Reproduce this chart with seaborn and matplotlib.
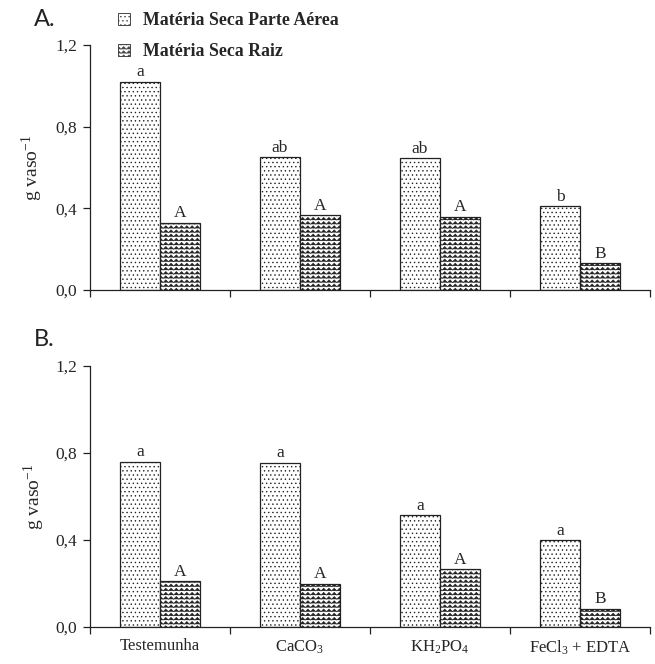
import warnings
import numpy as np
import pandas as pd
import matplotlib
matplotlib.use("Agg")
import matplotlib.pyplot as plt
import matplotlib.hatch as mhatch
from matplotlib.path import Path
from matplotlib.patches import Patch
from matplotlib.ticker import FixedLocator, FuncFormatter
import seaborn as sns

warnings.filterwarnings("ignore")

tratamentos = ["Testemunha", "CaCO$_3$", "KH$_2$PO$_4$", "FeCl$_3$ + EDTA"]
series = ["Matéria Seca Parte Aérea", "Matéria Seca Raiz"]

# painel A
aerea_a = [1.02, 0.65, 0.645, 0.41]
raiz_a = [0.33, 0.365, 0.36, 0.13]
letras_aerea_a = ["a", "ab", "ab", "b"]
letras_raiz_a = ["A", "A", "A", "B"]

# painel B
aerea_b = [0.76, 0.755, 0.515, 0.40]
raiz_b = [0.21, 0.20, 0.265, 0.085]
letras_aerea_b = ["a", "a", "a", "a"]
letras_raiz_b = ["A", "A", "A", "B"]

yticks = [0.0, 0.4, 0.8, 1.2]


# zigzag hatch ("~") since matplotlib has no wavy pattern
class WaveHatch(mhatch.HatchPatternBase):
    def __init__(self, hatch, density):
        self.num_lines = int(hatch.count("~") * density)
        self.num_periods = int(self.num_lines * 0.8)
        self.num_vertices = self.num_lines * (2 * self.num_periods + 1)

    def set_vertices_and_codes(self, vertices, codes):
        n = self.num_lines
        if n == 0:
            return
        npts = 2 * self.num_periods + 1
        xs = np.linspace(0.0, 1.0, npts)
        amp = 0.32 / n
        offs = np.where(np.arange(npts) % 2 == 0, -amp, amp)
        steps = (np.arange(n) + 0.5) / n
        for i, y in enumerate(steps):
            sl = slice(i * npts, (i + 1) * npts)
            vertices[sl, 0] = xs
            vertices[sl, 1] = y + offs
            codes[sl] = Path.LINETO
            codes[i * npts] = Path.MOVETO


mhatch._hatch_types.append(WaveHatch)

sns.set_style("white")
plt.rcParams["font.family"] = ["Liberation Serif", "DejaVu Serif"]
plt.rcParams["mathtext.fontset"] = "custom"
plt.rcParams["mathtext.rm"] = "Liberation Serif"
plt.rcParams["mathtext.it"] = "Liberation Serif:italic"
plt.rcParams["hatch.linewidth"] = 0.5
plt.rcParams["hatch.color"] = "#666666"

hatches = ["....", "~~~~"]


def painel(ax, aerea, raiz, letras_aerea, letras_raiz, show_x):
    df = pd.DataFrame({
        "tratamento": tratamentos * 2,
        "serie": [series[0]] * 4 + [series[1]] * 4,
        "valor": aerea + raiz,
    })
    sns.barplot(data=df, x="tratamento", y="valor", hue="serie", ax=ax,
                palette=["white", "white"], edgecolor="#222222", linewidth=0.9,
                width=0.572, gap=0, legend=False, errorbar=None)
    for cont, h in zip(ax.containers, hatches):
        for bar in cont:
            bar.set_hatch(h)
    ax.bar_label(ax.containers[0], labels=letras_aerea, padding=1, fontsize=12.5)
    ax.bar_label(ax.containers[1], labels=letras_raiz, padding=1, fontsize=12.5)

    ax.set_xlim(-0.5, 3.5)
    ax.set_ylim(0, 1.2)
    ax.set_yticks(yticks)
    ax.yaxis.set_major_formatter(FuncFormatter(lambda v, p: f"{v:.1f}".replace(".", ",")))
    ax.xaxis.set_minor_locator(FixedLocator([-0.5, 0.5, 1.5, 2.5, 3.5]))
    ax.tick_params(axis="x", which="major", length=0, labelsize=12, pad=8)
    ax.tick_params(axis="x", which="minor", length=5, width=0.9, direction="out",
                   bottom=True, color="#222222")
    ax.tick_params(axis="y", length=5, width=0.9, direction="out", left=True,
                   labelsize=12.5, pad=4, color="#222222")
    if not show_x:
        ax.set_xticklabels([])
    ax.set_xlabel("")
    ax.set_ylabel("g vaso$^{-1}$", fontsize=14, labelpad=8)
    for s in ["top", "right"]:
        ax.spines[s].set_visible(False)
    for s in ["left", "bottom"]:
        ax.spines[s].set_color("#222222")
        ax.spines[s].set_linewidth(0.9)


fig = plt.figure(figsize=(6.55, 6.64), dpi=100)
ax1 = fig.add_axes([90 / 655, 1 - 290 / 664, 560 / 655, 245 / 664])
ax2 = fig.add_axes([90 / 655, 1 - 627 / 664, 560 / 655, 261 / 664])

painel(ax1, aerea_a, raiz_a, letras_aerea_a, letras_raiz_a, False)
painel(ax2, aerea_b, raiz_b, letras_aerea_b, letras_raiz_b, True)
ax2.yaxis.set_label_coords(-0.077, 0.5)

fig.text(34 / 655, 1 - 20 / 664, "A.", family=["Lato", "DejaVu Sans"], fontsize=17,
         color="#222222", va="center")
fig.text(34 / 655, 1 - 340 / 664, "B.", family=["Lato", "DejaVu Sans"], fontsize=17,
         color="#222222", va="center")

handles = [Patch(facecolor="white", edgecolor="#444444", hatch="....", linewidth=0.7),
           Patch(facecolor="white", edgecolor="#444444", hatch="~~~~", linewidth=0.7)]
fig.legend(handles, series, loc="upper left", bbox_to_anchor=(102 / 655, 1 + 4 / 664),
           frameon=False, handlelength=0.7, handleheight=0.7, handletextpad=0.7,
           labelspacing=0.8, prop={"family": "Liberation Serif", "size": 12.8, "weight": "bold"})

fig.savefig("out.png", dpi=100)
